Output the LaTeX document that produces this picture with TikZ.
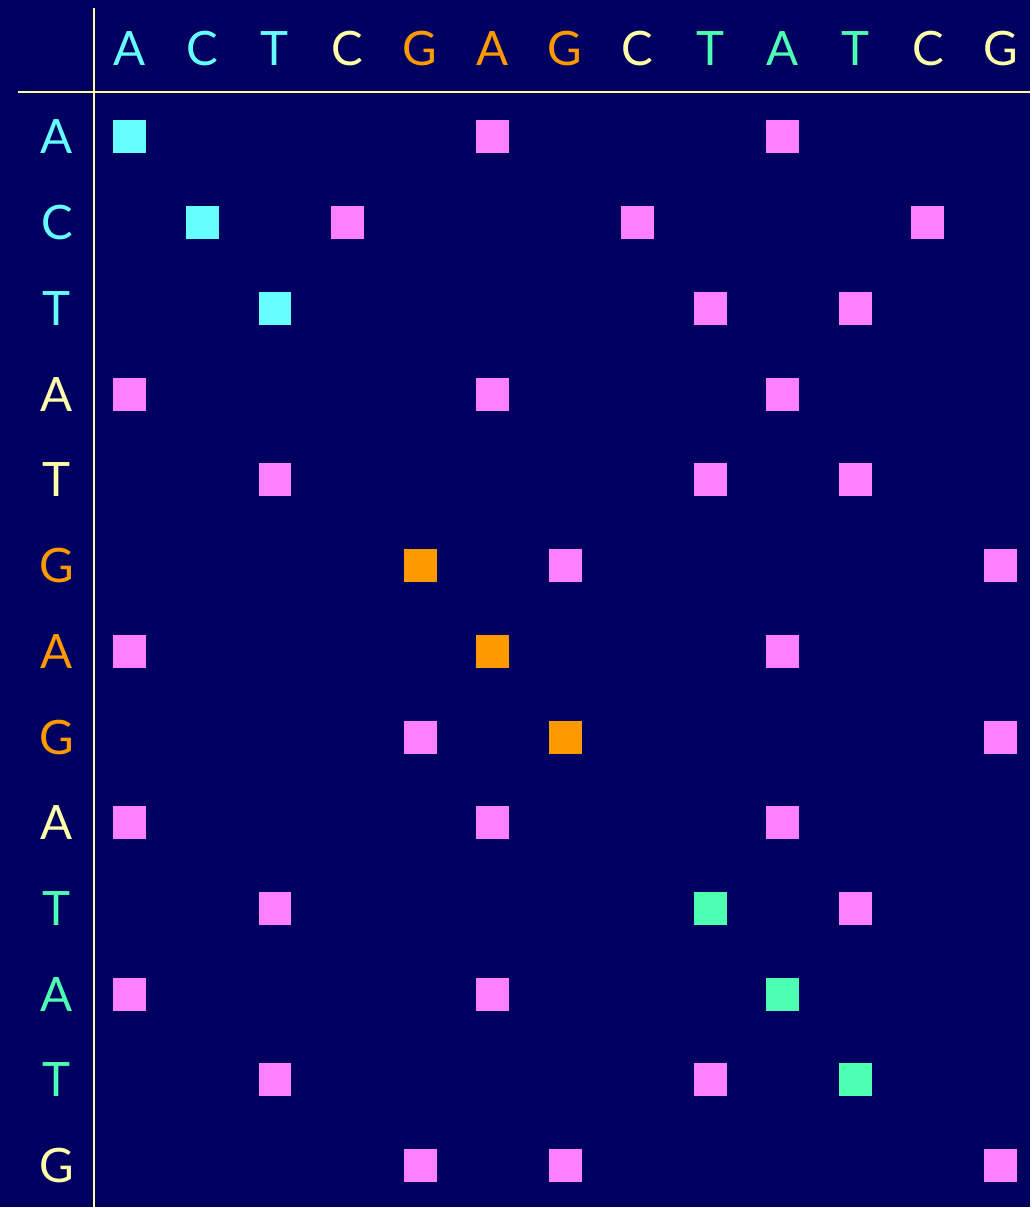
\documentclass[tikz,border=0pt]{standalone}
\usepackage{fontspec}
\setmainfont{Lato}
\usepackage{xcolor}
\usepackage{tikz}
\usetikzlibrary{positioning}
\definecolor{plotBg}{HTML}{000060}
\definecolor{plotRule}{HTML}{FFFF99}
\definecolor{seqCyan}{HTML}{66FFFF}
\definecolor{seqPale}{HTML}{FFFFAA}
\definecolor{seqOrange}{HTML}{FF9900}
\definecolor{seqGreen}{HTML}{4DFFB3}
\definecolor{seqMag}{HTML}{FF80FF}

\begin{document}
\begin{tikzpicture}[
  x=0.02cm,y=-0.02cm,
  base/.style={font=\fontsize{27}{30}\selectfont,inner sep=0pt,anchor=base},
  dot/.style={minimum size=0.66cm,inner sep=0pt,draw=none},
  rule/.style={plotRule,line width=1.1pt}
]
% Background
\fill[plotBg] (0,0) rectangle (1031,1208);

% Axes
\coordinate (vtop)   at (94,8);
\coordinate (vbot)   at (94,1208);
\coordinate (hleft)  at (18,92);
\coordinate (hright) at (1031,92);
\draw[rule] (vtop) -- (vbot);
\draw[rule] (hleft) -- (hright);

% Top sequence
\foreach \c/\b/\lc in {0/A/seqCyan,1/C/seqCyan,2/T/seqCyan,3/C/seqPale,
                       4/G/seqOrange,5/A/seqOrange,6/G/seqOrange,7/C/seqPale,
                       8/T/seqGreen,9/A/seqGreen,10/T/seqGreen,11/C/seqPale,12/G/seqPale}
  \node[base,text=\lc] (t\c) at ({130+72.6*\c},66) {\b};

% Left sequence and dots
\foreach \r/\a/\lc/\hc/\hcol in {0/A/seqCyan/0/seqCyan,1/C/seqCyan/1/seqCyan,
                                 2/T/seqCyan/2/seqCyan,3/A/seqPale/-1/seqMag,
                                 4/T/seqPale/-1/seqMag,5/G/seqOrange/4/seqOrange,
                                 6/A/seqOrange/5/seqOrange,7/G/seqOrange/6/seqOrange,
                                 8/A/seqPale/-1/seqMag,9/T/seqGreen/8/seqGreen,
                                 10/A/seqGreen/9/seqGreen,11/T/seqGreen/10/seqGreen,
                                 12/G/seqPale/-1/seqMag}{
  \node[base,text=\lc] (l\r) at (57,{154+85.8*\r}) {\a};
  \foreach \c/\b in {0/A,1/C,2/T,3/C,4/G,5/A,6/G,7/C,8/T,9/A,10/T,11/C,12/G}{
    \ifx\a\b
      \ifnum\c=\hc \def\sq{\hcol}\else\def\sq{seqMag}\fi
      \node[dot,fill=\sq] (s-\r-\c) at ({130+72.6*\c},{137+85.8*\r}) {};
    \fi
  }
}
\end{tikzpicture}
\end{document}
